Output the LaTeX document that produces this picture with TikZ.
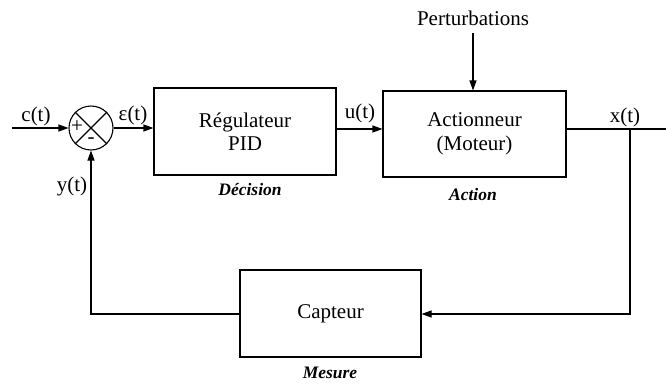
\documentclass[tikz,border=0pt]{standalone}
\usepackage{fontspec}
\setmainfont{Liberation Serif}
\usetikzlibrary{arrows.meta, positioning}

\tikzset{
  bloc/.style={draw, line width=1.1pt, minimum width=182pt, minimum height=87pt, align=center, font=\fontsize{21}{23.5}\selectfont},
  signal/.style={font=\fontsize{21}{23.5}\selectfont, inner sep=1pt},
  role/.style={font=\fontsize{17.5}{20}\selectfont\bfseries\itshape, inner sep=1pt},
  fil/.style={line width=1.1pt},
  fleche/.style={line width=1.1pt, -{Triangle[length=10pt, width=7pt]}}
}

\begin{document}
\begin{tikzpicture}[x=1pt, y=-1pt]

\useasboundingbox ( 0, 0 ) rectangle ( 666, 383 );

% Comparateur
\node [draw, circle, line width=1.1pt, minimum size=44pt, inner sep=0pt] (sum) at ( 91, 128 ) {};
\draw [fil] (sum.north west) -- (sum.south east);
\draw [fil] (sum.north east) -- (sum.south west);
\node [signal] at ( 77, 127 ) {+};
\node [signal] at ( 91, 141 ) {-};

% Blocs
\node [bloc] (reg) at ( 245, 131.5 ) {Régulateur\\PID};
\node [bloc, minimum width=183pt, minimum height=86pt] (act) at ( 474.5, 134 ) {Actionneur\\(Moteur)};
\node [bloc, minimum width=181pt] (capt) at ( 330.5, 313.5 ) {Capteur};

% Roles
\node [role] (dec) at ( 250, 190 ) {Décision};
\node [role] (acn) at ( 473, 195 ) {Action};
\node [role] (mes) at ( 330, 373 ) {Mesure};

% Entree, sortie, perturbations
\coordinate (in) at ( 12, 128 );
\coordinate (out) at ( 666, 129 );
\coordinate (br) at ( 630, 129 );
\coordinate (bas) at ( 630, 314 );
\coordinate (gauche) at ( 91, 314 );
\node [signal] (pert) at ( 473, 18 ) {Perturbations};

% Liaisons
\draw [fleche] (in) -- (sum.west);
\draw [fleche] (sum.east) -- (sum.east -| reg.west);
\draw [fleche] (reg.east |- 0, 129) -- (act.west |- 0, 129);
\draw [fil] (act.east |- br) -- (out);
\draw [fleche] (br) -- (bas) -- (capt.east |- bas);
\draw [fleche] (capt.west |- gauche) -- (gauche) -- (sum.south);
\draw [fleche] (pert.south) ++( 0, 6 ) -- (act.north -| pert.south);

% Labels
\node [signal] (c) at ( 36, 116 ) {c(t)};
\node [signal] (eps) at ( 133, 115 ) {ε(t)};
\node [signal] (u) at ( 360, 113 ) {u(t)};
\node [signal] (x) at ( 625, 117 ) {x(t)};
\node [signal] (y) at ( 72, 186 ) {y(t)};

\end{tikzpicture}
\end{document}
